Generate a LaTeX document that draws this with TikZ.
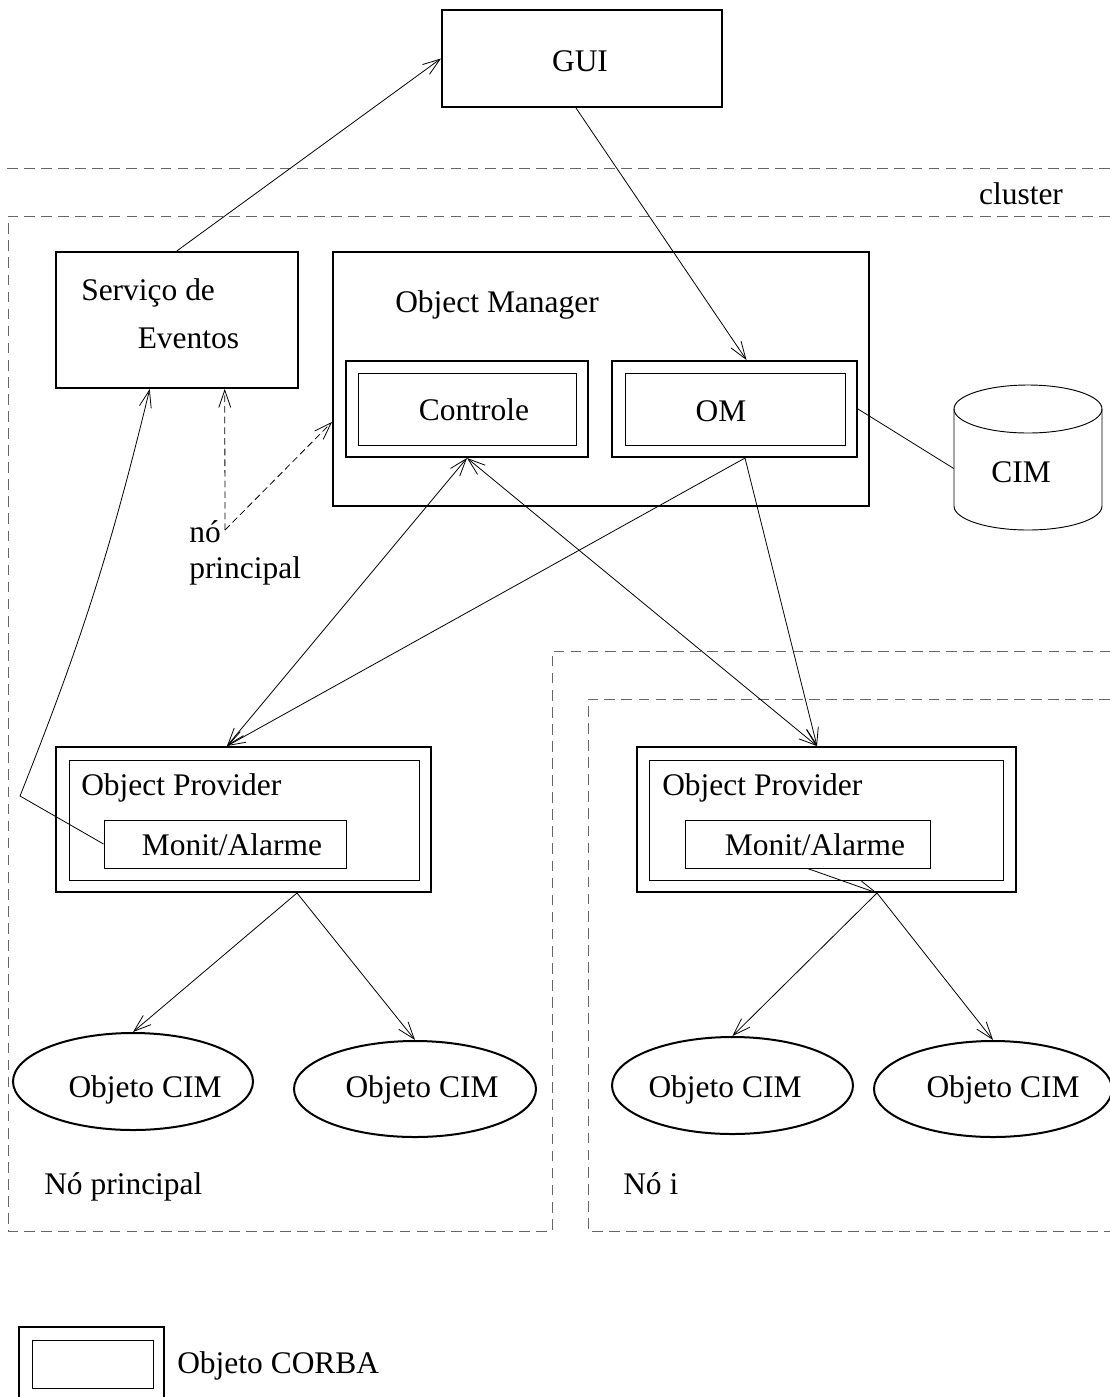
\documentclass[tikz,border=0pt]{standalone}
\usepackage{fontspec}
\setmainfont{Liberation Serif}
\usetikzlibrary{arrows.meta,shapes.geometric,calc}
\begin{document}
\begin{tikzpicture}[x=0.75pt,y=-0.75pt,
  font=\fontsize{23.6pt}{28pt}\selectfont,
  sz/.style 2 args={minimum width=#1*0.75pt, minimum height=#2*0.75pt},
  thickbox/.style={draw, line width=1.5pt, inner sep=0, rectangle},
  thinbox/.style={draw, line width=0.7pt, inner sep=0, rectangle},
  oval/.style={draw, line width=1.5pt, inner sep=0, ellipse},
  txt/.style={inner sep=0, anchor=base},
  txtl/.style={inner sep=0, anchor=base west},
  tip/.tip={Straight Barb[length=13pt,width=9pt]},
  arr/.style={line width=0.6pt, -tip},
  arrb/.style={line width=0.6pt, tip-tip},
  region/.style={draw=black!60, line width=0.75pt, dash pattern=on 8pt off 4.8pt},
  darr/.style={line width=0.6pt, dash pattern=on 5pt off 3pt, -tip},
  conn/.style={line width=0.6pt}
]
\useasboundingbox (0,0) rectangle (1110,1397);
\clip (0,0) rectangle (1110,1397);

% regions
\draw[region] (7,168) -- (1110,168);
\draw[region] (1110,216) -- (8,216) -- (8,1231) -- (552,1231) -- (552,651) -- (1110,651);
\draw[region] (1110,699) -- (588,699) -- (588,1231) -- (1110,1231);
\node[txt] (tcluster) at (1021,204) {cluster};
\node[txtl] (tnp) at (44,1194) {Nó principal};
\node[txtl] (tni) at (623,1194) {Nó i};

% GUI
\node[thickbox, sz={280}{97}] (gui) at (582,58.5) {};
\node[txt] (tgui) at (580,71) {GUI};

% Servico de Eventos
\node[thickbox, sz={241.5}{136}] (serv) at (176.75,320) {};
\node[txtl] (tserv1) at (81,300) {Serviço de};
\node[txtl] (tserv2) at (137.5,348) {Eventos};

% Object Manager
\node[thickbox, sz={536}{254}] (objm) at (601,379) {};
\node[txtl] (tobjm) at (395,312) {Object Manager};
\node[thickbox, sz={242}{96}] (ctrlO) at (467,409) {};
\node[thinbox, sz={218}{72}] (ctrlI) at (467,409) {};
\node[txt] (tctrl) at (474,420) {Controle};
\node[thickbox, sz={245}{96}] (omO) at (734.5,409) {};
\node[thinbox, sz={220}{72}] (omI) at (735,409) {};
\node[txt] (tom) at (721,421) {OM};

% CIM cylinder
\node[inner sep=0, sz={148}{145}] (cim) at (1028,457.5) {};
\draw[line width=0.7pt] (1028,409) ellipse [x radius=74, y radius=24];
\draw[line width=0.7pt] (954,409) -- (954,506) arc[start angle=180, end angle=0, x radius=74, y radius=24] -- (1102,409);
\node[txt] (tcim) at (1021,482) {CIM};

% Object Providers
\node[thickbox, sz={375}{145}] (opLO) at (243.5,819.5) {};
\node[thinbox, sz={350}{120}] (opLI) at (244,820) {};
\node[txtl] (topL) at (81,795) {Object Provider};
\node[thinbox, sz={242}{48}] (monL) at (225,844) {};
\node[txt] (tmonL) at (232,855) {Monit/Alarme};

\node[thickbox, sz={379}{145}] (opRO) at (826.5,819.5) {};
\node[thinbox, sz={354}{120}] (opRI) at (826,820) {};
\node[txtl] (topR) at (662,795) {Object Provider};
\node[thinbox, sz={245}{48}] (monR) at (807.5,844) {};
\node[txt] (tmonR) at (815,855) {Monit/Alarme};

% CIM objects
\node[oval, sz={240}{97}] (e1) at (133,1081.5) {};
\node[oval, sz={242}{96}] (e2) at (415,1089) {};
\node[oval, sz={241}{97}] (e3) at (732.5,1085.5) {};
\node[oval, sz={238}{96}] (e4) at (993,1089) {};
\node[txt] (te1) at (145,1097) {Objeto CIM};
\node[txt] (te2) at (422,1097) {Objeto CIM};
\node[txt] (te3) at (725,1097) {Objeto CIM};
\node[txt] (te4) at (1003,1097) {Objeto CIM};

% "no principal" label
\node[txtl] (tno1) at (189,542) {nó};
\node[txtl] (tno2) at (189,578) {principal};

% legend
\node[thickbox, sz={145}{75}] (legO) at (91.5,1364.5) {};
\node[thinbox, sz={121}{48}] (legI) at (92.5,1364) {};
\node[txtl] (tleg) at (177,1373) {Objeto CORBA};

% connector anchor points
\coordinate (omTop) at ($(omO.north)+(12,0)$);
\coordinate (omBot) at ($(omO.south)+(10.5,0)$);
\coordinate (opLTop) at ($(opLO.north)+(-16.5,0)$);
\coordinate (opRTop) at ($(opRO.north)+(-9.5,0)$);
\coordinate (opLBot) at ($(opLO.south)+(53.5,0)$);
\coordinate (opRBot) at ($(opRO.south)+(50.5,0)$);
\coordinate (np) at (225,530);
\coordinate (servD1) at ($(serv.south)+(48,0)$);
\coordinate (servD2) at ($(serv.south)+(-27,0)$);
\coordinate (objmL) at ($(objm.west)+(0,43)$);
\coordinate (bendL) at (20,796);
\coordinate (cimL) at ($(cim.west)+(0,11)$);

% connectors
\draw[arr] (serv.north) -- (gui.west);
\draw[arr] ($(gui.south)+(-6,0)$) -- (omTop);
\draw[darr] (np) -- (servD1);
\draw[darr] (np) -- (objmL);
\draw[arr] (monL.west) -- (bendL) to[bend right=4] (servD2);
\draw[arrb] (opLTop) -- (ctrlO.south);
\draw[arrb] (opRTop) -- (ctrlO.south);
\draw[arr] (omBot) -- (opLTop);
\draw[arr] (omBot) -- (opRTop);
\draw[conn] (omO.east) -- (cimL);
\draw[arr] (opLBot) -- (e1.north);
\draw[arr] (opLBot) -- (e2.north);
\draw[arr] (monR.south) -- (opRBot);
\draw[arr] (opRBot) -- (e3.north);
\draw[arr] (opRBot) -- (e4.north);
\end{tikzpicture}
\end{document}
